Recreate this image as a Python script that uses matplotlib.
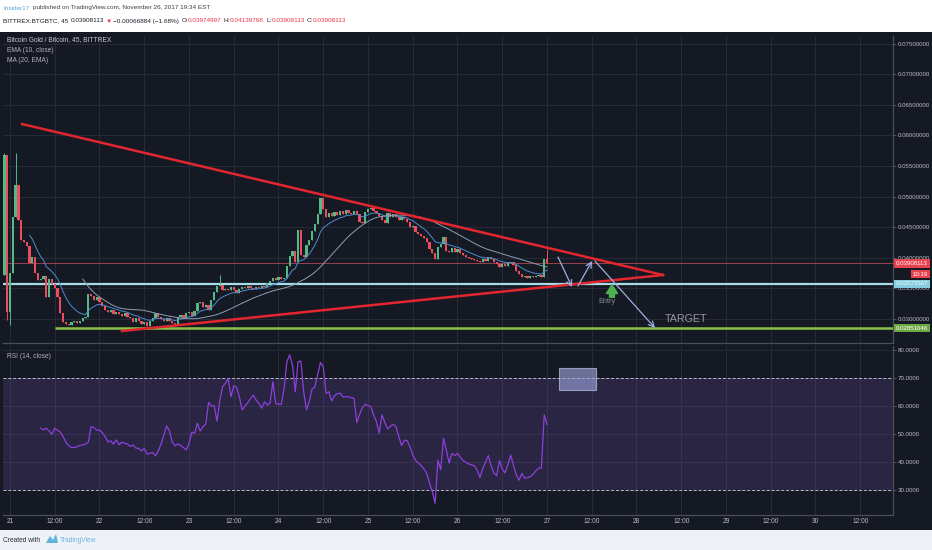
import numpy as np
import matplotlib
matplotlib.use('Agg')
import matplotlib.pyplot as plt
from matplotlib import font_manager as fm
from matplotlib.patches import Rectangle, Polygon

try:
    fm.findfont('Liberation Sans Narrow', fallback_to_default=False)
    FONT = 'Liberation Sans Narrow'
    FS = 1.0
except Exception:
    FONT = 'Liberation Sans'
    FS = 0.82
plt.rcParams['font.family'] = [FONT, 'DejaVu Sans']

# ---- data (BTG/BTC, 45 min candles, time in days from Nov 21 00:00) ----
t0 = -0.0625
step = 0.03125
first_open = 0.03719
close = [
    0.05680, 0.03114, 0.03752, 0.04667, 0.05190, 0.04618, 0.04291, 0.04258, 0.04193, 0.03915,
    0.04013, 0.03752, 0.03637, 0.03654, 0.03703, 0.03360, 0.03654, 0.03572, 0.03507, 0.03360,
    0.03098, 0.02951, 0.02918, 0.02902, 0.02951, 0.02967, 0.02935, 0.02967, 0.03016, 0.03033,
    0.03409, 0.03376, 0.03310, 0.03360, 0.03278, 0.03212, 0.03147, 0.03114, 0.03147, 0.03082,
    0.03114, 0.03082, 0.03049, 0.03098, 0.03033, 0.03016, 0.02951, 0.03016, 0.02967, 0.02918,
    0.02951, 0.02886, 0.02967, 0.03016, 0.03098, 0.03033, 0.03000, 0.02967, 0.03016, 0.02967,
    0.02935, 0.02918, 0.03033, 0.03065, 0.03016, 0.03098, 0.03114, 0.03049, 0.03131, 0.03261,
    0.03278, 0.03196, 0.03229, 0.03147, 0.03310, 0.03441, 0.03539, 0.03556, 0.03474, 0.03490,
    0.03474, 0.03523, 0.03474, 0.03425, 0.03490, 0.03523, 0.03507, 0.03539, 0.03507, 0.03490,
    0.03523, 0.03507, 0.03539, 0.03523, 0.03588, 0.03621, 0.03670, 0.03637, 0.03686, 0.03654,
    0.03670, 0.03866, 0.04029, 0.04111, 0.03931, 0.04454, 0.04046, 0.04013, 0.04209, 0.04291,
    0.04438, 0.04552, 0.04716, 0.04977, 0.04797, 0.04667, 0.04732, 0.04683, 0.04748, 0.04699,
    0.04765, 0.04716, 0.04781, 0.04732, 0.04716, 0.04765, 0.04716, 0.04585, 0.04569, 0.04748,
    0.04797, 0.04814, 0.04765, 0.04732, 0.04683, 0.04618, 0.04569, 0.04732, 0.04667, 0.04716,
    0.04667, 0.04618, 0.04667, 0.04634, 0.04585, 0.04503, 0.04520, 0.04422, 0.04389, 0.04356,
    0.04324, 0.04258, 0.04144, 0.04078, 0.03980, 0.04176, 0.04226, 0.04340, 0.04111, 0.04095,
    0.04160, 0.04095, 0.04144, 0.04078, 0.04046, 0.04013, 0.03997, 0.03980, 0.03964, 0.03948,
    0.03931, 0.03980, 0.03948, 0.04013, 0.03980, 0.03931, 0.03899, 0.03850, 0.03899, 0.03866,
    0.03915, 0.03931, 0.03882, 0.03784, 0.03735, 0.03686, 0.03703, 0.03670, 0.03703, 0.03686,
    0.03703, 0.03719, 0.03686, 0.03975, 0.03908,
]
wick_high = {0: 0.0572, 4: 0.0572, 77: 0.0372, 194: 0.04140}
wick_low = {1: 0.0298, 2: 0.0290}

rsi_start = 13
rsi = [
    52.1, 51.5, 52.1, 51.1, 49.9, 52.1, 51.4, 50.7, 49.1, 47.1,
    45.8, 45.2, 45.2, 45.5, 45.9, 46.1, 46.4, 47.1, 52.7, 52.3,
    51.5, 51.4, 50.5, 49.1, 47.2, 47.6, 46.4, 47.9, 46.2, 47.1,
    46.7, 46.4, 45.6, 46.1, 45.0, 44.9, 44.0, 44.9, 42.8, 43.1,
    43.4, 42.2, 44.0, 46.4, 49.7, 53.0, 51.1, 47.3, 45.8, 46.5,
    45.9, 45.2, 44.3, 46.7, 50.7, 50.3, 53.9, 51.1, 52.7, 53.6,
    61.4, 60.0, 60.2, 54.7, 61.9, 67.0, 68.2, 70.0, 63.4, 67.3,
    66.8, 63.4, 58.7, 60.0, 61.3, 62.8, 64.0, 62.2, 61.0, 59.3,
    61.6, 60.4, 61.2, 68.8, 61.0, 60.7, 60.7, 66.4, 76.0,
    78.4, 74.8, 65.2, 76.0, 76.2, 65.2, 58.7, 61.6, 66.2, 66.9,
    71.2, 75.7, 74.2, 64.6, 65.2, 61.9, 63.7, 64.5, 64.7, 63.4,
    63.4, 63.4, 63.1, 62.8, 54.2, 57.1, 59.5, 60.7, 60.2, 59.9,
    56.9, 54.5, 50.3, 56.9, 54.2, 51.9, 52.8, 53.5, 52.7, 49.1,
    45.9, 47.8, 47.7, 45.5, 42.5, 40.6, 39.6, 38.7, 37.5, 36.0,
    32.4, 29.4, 25.2, 40.7, 37.2, 48.5, 44.3, 39.6, 43.1, 42.3,
    43.1, 41.7, 40.5, 39.9, 39.3, 39.0, 38.7, 37.2, 34.4, 37.5,
    39.9, 42.3, 38.6, 36.1, 35.1, 40.5, 37.5, 36.1, 39.0, 42.5,
    39.0, 35.4, 33.5, 35.9, 34.2, 34.4, 34.7, 35.6, 36.8, 37.8,
    37.8, 56.9, 53.5,
]

last_price = 0.03908113
entry_level = 0.03573567
target_level = 0.02851646
upper_trend = ([0.134, 7.296], [0.06186, 0.03719])
lower_trend = ([1.251, 7.296], [0.02804, 0.03719])
path_arrows = [((6.123, 0.04013), (6.279, 0.03523)),
               ((6.346, 0.03539), (6.503, 0.03948)),
               ((6.536, 0.03948), (7.207, 0.02853))]
day_ticks = np.arange(0, 10, 0.5)
day_labels = ['21', '12:00', '22', '12:00', '23', '12:00', '24', '12:00', '25', '12:00',
              '26', '12:00', '27', '12:00', '28', '12:00', '29', '12:00', '30', '12:00']

# ---- colours ----
BG = '#151924'
GRID = '#282c38'
TXT = '#b7bac3'
UP = '#53b987'
DN = '#eb4d5c'

W, H = 932, 550
def fx(px):
    return px / W
def fy(py):
    return 1 - py / H

fig = plt.figure(figsize=(9.32, 5.5), dpi=100)
fig.patch.set_facecolor('white')
fig.patches.append(Rectangle((0, fy(530)), 1, fy(32) - fy(530), transform=fig.transFigure,
                             fc=BG, ec='none', zorder=-5))
fig.patches.append(Rectangle((0, 0), 1, fy(530), transform=fig.transFigure,
                             fc='#eef1f5', ec='none', zorder=-5))

ax = fig.add_axes([fx(3), fy(343), fx(893) - fx(3), fy(36) - fy(343)])
ax_r = fig.add_axes([fx(3), fy(515), fx(893) - fx(3), fy(346) - fy(515)])
xlim = (-0.0782, 9.866)

for a in (ax, ax_r):
    a.set_facecolor(BG)
    a.set_xlim(*xlim)
    a.set_xticks(day_ticks)
    a.grid(True, color=GRID, lw=0.7)
    a.set_axisbelow(True)
    a.yaxis.tick_right()
    a.tick_params(axis='y', colors=TXT, labelsize=5.4 * FS, length=2, pad=1.5, width=0.6)
    a.tick_params(axis='y', which='both', color='#5d616d')
    for s in ('top', 'left'):
        a.spines[s].set_visible(False)
    for s in ('right', 'bottom'):
        a.spines[s].set_color('#4a4e5a')
        a.spines[s].set_linewidth(0.9)

# ---- price panel ----
ax.set_ylim(0.02608, 0.07624)
ax.set_yticks(np.arange(0.030, 0.0751, 0.005))
ax.set_yticklabels(['%.8f' % v for v in np.arange(0.030, 0.0751, 0.005)])
ax.tick_params(axis='x', length=0, labelbottom=False)

c = np.array(close)
o = np.r_[first_open, c[:-1]]
n = len(c)
t = t0 + step * np.arange(n)
hi = np.maximum(o, c)
lo = np.minimum(o, c)
for i, v in wick_high.items():
    hi[i] = v
for i, v in wick_low.items():
    lo[i] = v
cols = np.where(c >= o, UP, DN)
ax.vlines(t, lo, hi, colors=cols, lw=0.7, zorder=3)
ax.bar(t, np.maximum(np.abs(c - o), 0.00012), bottom=np.minimum(o, c),
       width=0.025, color=cols, lw=0, zorder=3)

# EMA(10) and 20-period MA of it
ema = np.full(n, np.nan)
ema[9] = c[:10].mean()
k = 2 / 11
for i in range(10, n):
    ema[i] = c[i] * k + ema[i - 1] * (1 - k)
ma = np.full(n, np.nan)
for i in range(28, n):
    ma[i] = ema[i - 19:i + 1].mean()
ax.plot(t, ema, color='#4d8cd0', lw=0.7, zorder=4)
ax.plot(t, ma, color='#8aa0b2', lw=0.7, zorder=4)

ax.axhline(last_price, color='#9a4150', lw=0.7, zorder=2)
ax.axhline(entry_level, color='#a6dbe8', lw=1.6, zorder=2)
ax.hlines(target_level, 0.5, xlim[1], color='#8bc34a', lw=1.8, zorder=2)

ax.plot(*upper_trend, color='#e3262e', lw=1.8, zorder=5)
ax.plot(*lower_trend, color='#e3262e', lw=1.8, zorder=5)

for start, end in path_arrows:
    ax.annotate('', xy=end, xytext=start,
                arrowprops=dict(arrowstyle='->', color='#9fb0e0', lw=0.9,
                                shrinkA=0, shrinkB=0), zorder=6)
ax.annotate('', xy=(6.726, 0.03560), xytext=(6.726, 0.03355),
            arrowprops=dict(arrowstyle='simple,head_width=0.9,head_length=0.7,tail_width=0.4',
                            color='#4caf50', mutation_scale=9, shrinkA=0, shrinkB=0), zorder=6)
ax.text(6.67, 0.03278, 'Entry', color='#8a8e99', fontsize=6.5 * FS, ha='center', va='center')
ax.text(7.318, 0.03005, 'TARGET', color='#9598a1', fontsize=9.5 * FS, ha='left', va='center')

ytr = ax.get_yaxis_transform()
def price_tag(y, s, fc, tc='white', x=1.0034):
    ax.text(x, y, s, transform=ytr, ha='left', va='center', fontsize=5.4 * FS, color=tc,
            bbox=dict(boxstyle='square,pad=0.3', fc=fc, ec='none'), clip_on=False, zorder=10)
price_tag(last_price, '%.8f' % last_price, '#e9424f')
price_tag(0.03735, '10:19', '#e9424f', x=1.0225)
price_tag(entry_level, '%.8f' % entry_level, '#86cde0', tc='#eef8fb')
price_tag(target_level, '%.8f' % target_level, '#6da844')

# ---- RSI panel ----
ax_r.set_ylim(21.0, 81.6)
ax_r.set_yticks([30, 40, 50, 60, 70, 80])
ax_r.set_yticklabels(['%.4f' % v for v in [30, 40, 50, 60, 70, 80]])
ax_r.set_xticklabels(day_labels)
ax_r.tick_params(axis='x', length=0, pad=2.5, labelsize=5.8 * FS, colors=TXT)
ax_r.axhspan(30, 70, color='#7e57c2', alpha=0.2, lw=0, zorder=1)
for lvl in (70, 30):
    ax_r.axhline(lvl, color='#b8bbc6', lw=0.7, dashes=(3, 2), zorder=2)
ax_r.plot(t[rsi_start:rsi_start + len(rsi)], rsi, color='#8e3fdc', lw=0.9, zorder=4)
ax_r.add_patch(Rectangle((6.134, 65.8), 0.413, 7.8, fc='#9aa0d8', ec='#c8ccf0',
                         alpha=0.65, lw=0.8, zorder=5))

# ---- text overlays ----
def ftext(px, py, s, color, size, **kw):
    return fig.text(fx(px), fy(py), s, color=color, fontsize=size * FS,
                    va='center', ha='left', **kw)

ftext(3, 8, 'Insider17', '#5aa9d6', 5.6)
ftext(33, 8, 'published on TradingView.com, November 26, 2017 19:34 EST', '#3a3e48', 5.6)
RED = '#e8344a'
DARK = '#1a1e28'
segments = [('BITTREX:BTGBTC, 45', DARK, 0), ('0.03908113', DARK, 1.5), ('\u25bc', RED, 1.5),
            ('\u22120.00066884 (\u22121.68%)', DARK, 1), ('O:', DARK, 1.5),
            ('0.03974997', RED, 0), ('H:', DARK, 1.5), ('0.04139768', RED, 0),
            ('L:', DARK, 1.5), ('0.03908113', RED, 0), ('C:', DARK, 1.5),
            ('0.03908113', RED, 0)]
prev = ftext(3, 21, segments[0][0], segments[0][1], 5.6)
for s, col, gap in segments[1:]:
    prev = ax.annotate(s, xy=(1, 0.5), xycoords=prev, xytext=(gap, 0),
                       textcoords='offset points', va='center', ha='left',
                       color=col, fontsize=5.6 * FS, annotation_clip=False)

ftext(7, 40, 'Bitcoin Gold / Bitcoin, 45, BITTREX', '#c9ccd4', 5.8)
ftext(7, 50, 'EMA (10, close)', '#b0b3bc', 5.8)
ftext(7, 61, 'MA (20, EMA)', '#b0b3bc', 5.8)
ftext(7, 356, 'RSI (14, close)', '#b0b3bc', 5.8)

ftext(3, 540, 'Created with', '#2a2e39', 5.8)
logo = [(46, 543), (50, 536), (53, 540), (56, 534), (58, 543)]
fig.patches.append(Polygon([(fx(a), fy(b)) for a, b in logo], closed=True,
                           transform=fig.transFigure, fc='#5fb4e0', ec='none'))
ftext(60, 540, 'TradingView', '#64b5e0', 5.8)

fig.savefig('out.png', dpi=100, facecolor=fig.get_facecolor())
